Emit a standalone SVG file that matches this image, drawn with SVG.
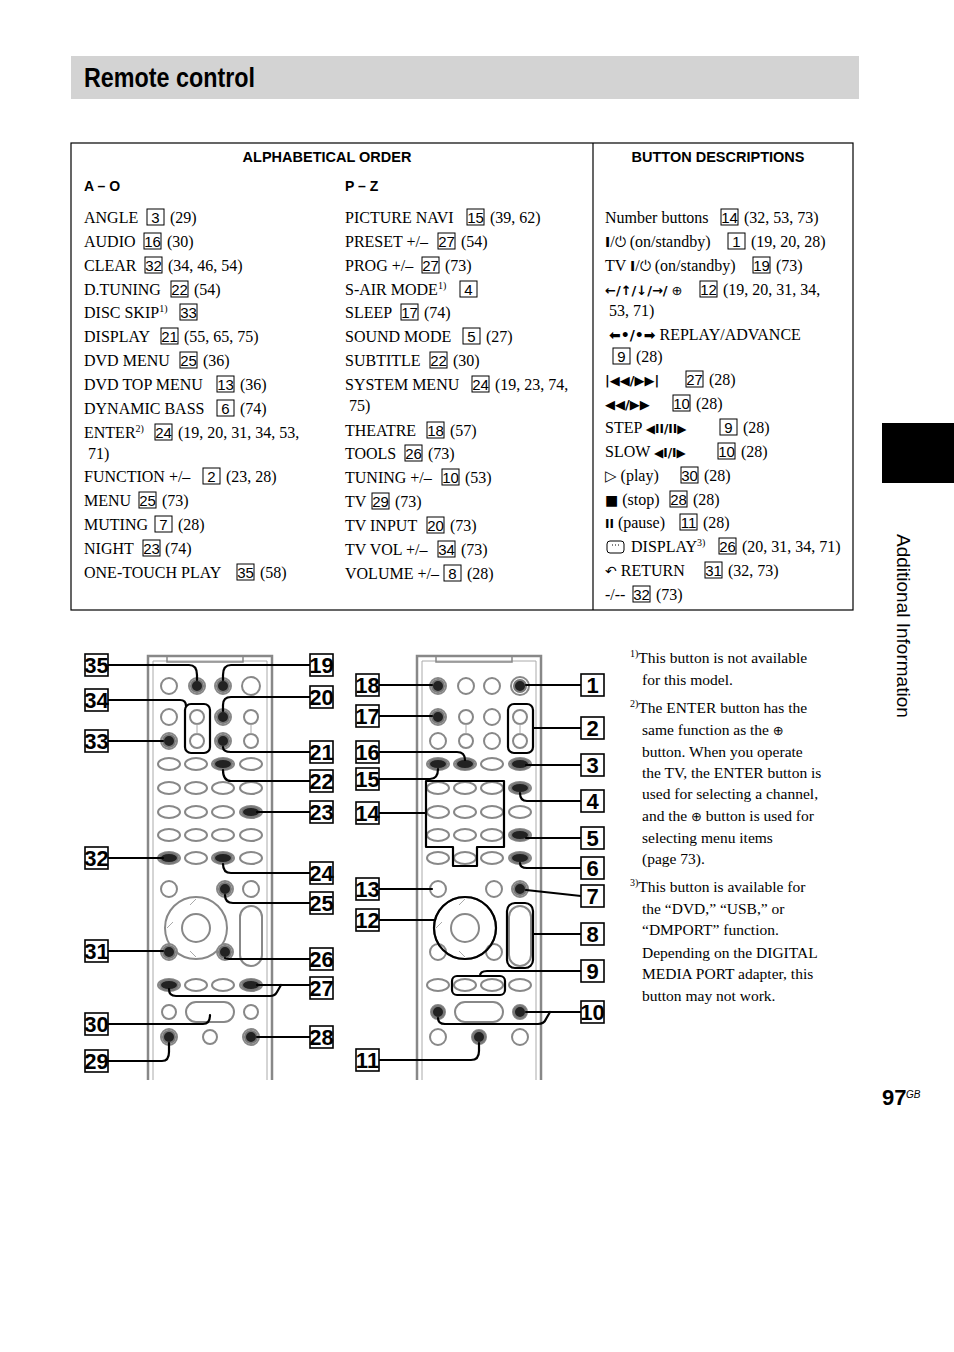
<svg xmlns="http://www.w3.org/2000/svg" xmlns:xlink="http://www.w3.org/1999/xlink" width="954" height="1352" viewBox="0 0 954 1352">
<style>
.t{font-family:"Liberation Serif",serif;font-size:16px;fill:#000}
.h{font-family:"Liberation Sans",sans-serif;font-size:14.5px;font-weight:bold;text-anchor:middle}
.bx{fill:none;stroke:#000;stroke-width:1}
.bn{font-family:"Liberation Sans",sans-serif;font-size:15px;text-anchor:middle}
.lb{fill:#fff;stroke:#000;stroke-width:1.6}
.ln{font-family:"Liberation Sans",sans-serif;font-size:22px;text-anchor:middle;font-weight:bold}
.c{fill:none;stroke:#000;stroke-width:2.2;stroke-linejoin:round;stroke-linecap:round}
.btn{fill:#fff;stroke:#888;stroke-width:2}
.bod{fill:#fff;stroke:#888;stroke-width:2.5}
.hl{fill:#222;stroke:#777;stroke-width:2}
.sup{font-size:10px}
.f{font-family:"Liberation Serif",serif;font-size:15.5px}
</style>
<defs>
<g id="remote">
<path class="bod" d="M148,1080 V656 H272 V1080"/>
<path d="M153,1080 V661 H267 V1080" fill="none" stroke="#aaa" stroke-width="1"/>
<path d="M167,656 V662 H243 V656" fill="none" stroke="#888" stroke-width="1.5"/>
<circle class="btn" cx="169" cy="686" r="8"/><circle class="btn" cx="197" cy="686" r="8"/><circle class="btn" cx="223" cy="686" r="8"/><circle class="btn" cx="251" cy="686" r="9"/>
<circle class="btn" cx="169" cy="717" r="8"/><circle class="btn" cx="197" cy="717" r="7"/><circle class="btn" cx="223" cy="717" r="8"/><circle class="btn" cx="251" cy="717" r="7"/>
<circle class="btn" cx="169" cy="741" r="8"/><circle class="btn" cx="197" cy="741" r="7"/><circle class="btn" cx="223" cy="741" r="8"/><circle class="btn" cx="251" cy="741" r="7"/>
<path d="M197,724 V734 M251,724 V734" stroke="#aaa"/>
<g class="btn">
<ellipse cx="169" cy="764" rx="11" ry="6"/><ellipse cx="196" cy="764" rx="11" ry="6"/><ellipse cx="223" cy="764" rx="11" ry="6"/><ellipse cx="251" cy="764" rx="11" ry="6"/>
<ellipse cx="169" cy="788" rx="11" ry="6"/><ellipse cx="196" cy="788" rx="11" ry="6"/><ellipse cx="223" cy="788" rx="11" ry="6"/><ellipse cx="251" cy="788" rx="11" ry="6"/>
<ellipse cx="169" cy="812" rx="11" ry="6"/><ellipse cx="196" cy="812" rx="11" ry="6"/><ellipse cx="223" cy="812" rx="11" ry="6"/><ellipse cx="251" cy="812" rx="11" ry="6"/>
<ellipse cx="169" cy="835" rx="11" ry="6"/><ellipse cx="196" cy="835" rx="11" ry="6"/><ellipse cx="223" cy="835" rx="11" ry="6"/><ellipse cx="251" cy="835" rx="11" ry="6"/>
<ellipse cx="169" cy="858" rx="11" ry="6"/><ellipse cx="196" cy="858" rx="11" ry="6"/><ellipse cx="223" cy="858" rx="11" ry="6"/><ellipse cx="251" cy="858" rx="11" ry="6"/>
<circle cx="169" cy="889" r="8"/><circle cx="225" cy="889" r="8"/><circle cx="251" cy="889" r="8"/>
<circle cx="196" cy="928" r="31"/><circle cx="196" cy="928" r="14"/>
<circle cx="169" cy="952" r="8"/><circle cx="225" cy="952" r="8"/>
<rect x="240" y="906" width="22" height="60" rx="11"/>
<ellipse cx="169" cy="985" rx="11" ry="6"/><ellipse cx="196" cy="985" rx="11" ry="6"/><ellipse cx="223" cy="985" rx="11" ry="6"/><ellipse cx="251" cy="985" rx="11" ry="6"/>
<circle cx="169" cy="1012" r="7"/><rect x="186" y="1002" width="48" height="20" rx="10"/><circle cx="251" cy="1012" r="7"/>
<circle cx="169" cy="1037" r="8"/><circle cx="210" cy="1037" r="7"/><circle cx="251" cy="1037" r="8"/>
</g>
<path d="M196,899 L190,905 M196,957 L190,951 M167,928 L173,922" stroke="#aaa"/>
</g>
</defs>

<g id="header">
<rect x="71" y="56" width="788" height="43" fill="#d3d3d3"/>
<text x="84" y="87" font-family="Liberation Sans,sans-serif" font-weight="bold" font-size="27" textLength="171" lengthAdjust="spacingAndGlyphs">Remote control</text>
</g>
<g id="sidetab">
<rect x="882" y="423" width="72" height="60" fill="#000"/>
<text transform="translate(897,534) rotate(90)" font-family="Liberation Sans,sans-serif" font-size="19">Additional Information</text>
</g>
<g id="pagenum">
<text x="882" y="1105" font-family="Liberation Sans,sans-serif" font-weight="bold" font-size="22">97</text>
<text x="906" y="1098" font-family="Liberation Sans,sans-serif" font-style="italic" font-size="10">GB</text>
</g>

<g id="table">
<rect x="71" y="143" width="782" height="467" fill="none" stroke="#000" stroke-width="1.2"/>
<line x1="593" y1="143" x2="593" y2="610" stroke="#000" stroke-width="1.2"/>
<text class="h" x="327" y="162">ALPHABETICAL ORDER</text>
<text class="h" x="718" y="162">BUTTON DESCRIPTIONS</text>
<text x="84" y="191" font-family="Liberation Sans,sans-serif" font-weight="bold" font-size="14">A – O</text>
<text x="345" y="191" font-family="Liberation Sans,sans-serif" font-weight="bold" font-size="14">P – Z</text>
<g class="t">
<text x="84" y="223">ANGLE</text><text x="170" y="223">(29)</text>
<text x="84" y="247">AUDIO</text><text x="167" y="247">(30)</text>
<text x="84" y="271">CLEAR</text><text x="168" y="271">(34, 46, 54)</text>
<text x="84" y="295">D.TUNING</text><text x="194" y="295">(54)</text>
<text x="84" y="318">DISC SKIP<tspan class="sup" dy="-6">1)</tspan></text>
<text x="84" y="342">DISPLAY</text><text x="184" y="342">(55, 65, 75)</text>
<text x="84" y="366">DVD MENU</text><text x="203" y="366">(36)</text>
<text x="84" y="390">DVD TOP MENU</text><text x="240" y="390">(36)</text>
<text x="84" y="414">DYNAMIC BASS</text><text x="240" y="414">(74)</text>
<text x="84" y="438">ENTER<tspan class="sup" dy="-6">2)</tspan></text><text x="178" y="438">(19, 20, 31, 34, 53,</text>
<text x="88" y="459">71)</text>
<text x="84" y="482">FUNCTION +/–</text><text x="226" y="482">(23, 28)</text>
<text x="84" y="506">MENU</text><text x="162" y="506">(73)</text>
<text x="84" y="530">MUTING</text><text x="178" y="530">(28)</text>
<text x="84" y="554">NIGHT</text><text x="165" y="554">(74)</text>
<text x="84" y="578">ONE-TOUCH PLAY</text><text x="260" y="578">(58)</text>

<text x="345" y="223">PICTURE NAVI</text><text x="490" y="223">(39, 62)</text>
<text x="345" y="247">PRESET +/–</text><text x="461" y="247">(54)</text>
<text x="345" y="271">PROG +/–</text><text x="445" y="271">(73)</text>
<text x="345" y="295">S-AIR MODE<tspan class="sup" dy="-6">1)</tspan></text>
<text x="345" y="318">SLEEP</text><text x="424" y="318">(74)</text>
<text x="345" y="342">SOUND MODE</text><text x="486" y="342">(27)</text>
<text x="345" y="366">SUBTITLE</text><text x="453" y="366">(30)</text>
<text x="345" y="390">SYSTEM MENU</text><text x="495" y="390">(19, 23, 74,</text>
<text x="349" y="411">75)</text>
<text x="345" y="436">THEATRE</text><text x="450" y="436">(57)</text>
<text x="345" y="459">TOOLS</text><text x="428" y="459">(73)</text>
<text x="345" y="483">TUNING +/–</text><text x="465" y="483">(53)</text>
<text x="345" y="507">TV</text><text x="395" y="507">(73)</text>
<text x="345" y="531">TV INPUT</text><text x="450" y="531">(73)</text>
<text x="345" y="555">TV VOL +/–</text><text x="461" y="555">(73)</text>
<text x="345" y="579">VOLUME +/–</text><text x="467" y="579">(28)</text>

<text x="605" y="223">Number buttons</text><text x="744" y="223">(32, 53, 73)</text>
<text x="605" y="247"><tspan font-family="DejaVu Sans,sans-serif" font-size="14" font-weight="bold">I</tspan>/<tspan font-family="DejaVu Sans,sans-serif" font-size="14">⏻</tspan> (on/standby)</text><text x="751" y="247">(19, 20, 28)</text>
<text x="605" y="271">TV <tspan font-family="DejaVu Sans,sans-serif" font-size="14" font-weight="bold">I</tspan>/<tspan font-family="DejaVu Sans,sans-serif" font-size="14">⏻</tspan> (on/standby)</text><text x="776" y="271">(73)</text>
<text x="605" y="295"><tspan font-family="DejaVu Sans,sans-serif" font-size="13" font-weight="bold">←/↑/↓/→/</tspan> <tspan font-family="DejaVu Sans,sans-serif" font-size="13">⊕</tspan></text><text x="723" y="295">(19, 20, 31, 34,</text>
<text x="609" y="316">53, 71)</text>
<text x="609" y="340"><tspan font-family="DejaVu Sans,sans-serif" font-size="14" font-weight="bold">⬅•/•➡</tspan>  REPLAY/ADVANCE</text>
<text x="636" y="362">(28)</text>
<text x="605" y="385"><tspan font-family="DejaVu Sans,sans-serif" font-size="13" font-weight="bold">|◀◀/▶▶|</tspan></text><text x="709" y="385">(28)</text>
<text x="605" y="409"><tspan font-family="DejaVu Sans,sans-serif" font-size="13" font-weight="bold">◀◀/▶▶</tspan></text><text x="696" y="409">(28)</text>
<text x="605" y="433">STEP <tspan font-family="DejaVu Sans,sans-serif" font-size="12" font-weight="bold">◀II/II▶</tspan></text><text x="743" y="433">(28)</text>
<text x="605" y="457">SLOW <tspan font-family="DejaVu Sans,sans-serif" font-size="12" font-weight="bold">◀I/I▶</tspan></text><text x="741" y="457">(28)</text>
<text x="605" y="481"><tspan font-family="DejaVu Sans,sans-serif" font-size="15">▷</tspan> (play)</text><text x="704" y="481">(28)</text>
<text x="605" y="505"><tspan font-family="DejaVu Sans,sans-serif" font-size="14">■</tspan> (stop)</text><text x="693" y="505">(28)</text>
<text x="605" y="528"><tspan font-family="DejaVu Sans,sans-serif" font-size="12" font-weight="bold">II</tspan> (pause)</text><text x="703" y="528">(28)</text>
<text x="631" y="552">DISPLAY<tspan class="sup" dy="-6">3)</tspan></text><text x="742" y="552">(20, 31, 34, 71)</text>
<text x="605" y="576"><tspan font-family="DejaVu Sans,sans-serif" font-size="14">↶</tspan> RETURN</text><text x="728" y="576">(32, 73)</text>
<text x="605" y="600">-/--</text><text x="656" y="600">(73)</text>
</g>
<path d="M610,541 h11 a3,3 0 0 1 3,3 v6 a3,3 0 0 1 -3,3 h-11 a3,3 0 0 1 -3,-3 v-6 a3,3 0 0 1 3,-3 z M612,545 h1 M615,545 h1 M618,545 h1" fill="none" stroke="#000" stroke-width="1"/>
<g id="inlineboxes">
<rect class="bx" x="147" y="209" width="17" height="16"/><text class="bn" x="155.5" y="223">3</text>
<rect class="bx" x="144" y="233" width="17" height="16"/><text class="bn" x="152.5" y="247">16</text>
<rect class="bx" x="145" y="257" width="17" height="16"/><text class="bn" x="153.5" y="271">32</text>
<rect class="bx" x="171" y="281" width="17" height="16"/><text class="bn" x="179.5" y="295">22</text>
<rect class="bx" x="180" y="304" width="17" height="16"/><text class="bn" x="188.5" y="318">33</text>
<rect class="bx" x="161" y="328" width="17" height="16"/><text class="bn" x="169.5" y="342">21</text>
<rect class="bx" x="180" y="352" width="17" height="16"/><text class="bn" x="188.5" y="366">25</text>
<rect class="bx" x="217" y="376" width="17" height="16"/><text class="bn" x="225.5" y="390">13</text>
<rect class="bx" x="217" y="400" width="17" height="16"/><text class="bn" x="225.5" y="414">6</text>
<rect class="bx" x="155" y="424" width="17" height="16"/><text class="bn" x="163.5" y="438">24</text>
<rect class="bx" x="203" y="468" width="17" height="16"/><text class="bn" x="211.5" y="482">2</text>
<rect class="bx" x="139" y="492" width="17" height="16"/><text class="bn" x="147.5" y="506">25</text>
<rect class="bx" x="155" y="516" width="17" height="16"/><text class="bn" x="163.5" y="530">7</text>
<rect class="bx" x="143" y="540" width="17" height="16"/><text class="bn" x="151.5" y="554">23</text>
<rect class="bx" x="237" y="564" width="17" height="16"/><text class="bn" x="245.5" y="578">35</text>

<rect class="bx" x="467" y="209" width="17" height="16"/><text class="bn" x="475.5" y="223">15</text>
<rect class="bx" x="438" y="233" width="17" height="16"/><text class="bn" x="446.5" y="247">27</text>
<rect class="bx" x="422" y="257" width="17" height="16"/><text class="bn" x="430.5" y="271">27</text>
<rect class="bx" x="460" y="281" width="17" height="16"/><text class="bn" x="468.5" y="295">4</text>
<rect class="bx" x="401" y="304" width="17" height="16"/><text class="bn" x="409.5" y="318">17</text>
<rect class="bx" x="463" y="328" width="17" height="16"/><text class="bn" x="471.5" y="342">5</text>
<rect class="bx" x="430" y="352" width="17" height="16"/><text class="bn" x="438.5" y="366">22</text>
<rect class="bx" x="472" y="376" width="17" height="16"/><text class="bn" x="480.5" y="390">24</text>
<rect class="bx" x="427" y="422" width="17" height="16"/><text class="bn" x="435.5" y="436">18</text>
<rect class="bx" x="405" y="445" width="17" height="16"/><text class="bn" x="413.5" y="459">26</text>
<rect class="bx" x="442" y="469" width="17" height="16"/><text class="bn" x="450.5" y="483">10</text>
<rect class="bx" x="372" y="493" width="17" height="16"/><text class="bn" x="380.5" y="507">29</text>
<rect class="bx" x="427" y="517" width="17" height="16"/><text class="bn" x="435.5" y="531">20</text>
<rect class="bx" x="438" y="541" width="17" height="16"/><text class="bn" x="446.5" y="555">34</text>
<rect class="bx" x="444" y="565" width="17" height="16"/><text class="bn" x="452.5" y="579">8</text>

<rect class="bx" x="721" y="209" width="17" height="16"/><text class="bn" x="729.5" y="223">14</text>
<rect class="bx" x="728" y="233" width="17" height="16"/><text class="bn" x="736.5" y="247">1</text>
<rect class="bx" x="753" y="257" width="17" height="16"/><text class="bn" x="761.5" y="271">19</text>
<rect class="bx" x="700" y="281" width="17" height="16"/><text class="bn" x="708.5" y="295">12</text>
<rect class="bx" x="613" y="348" width="17" height="16"/><text class="bn" x="621.5" y="362">9</text>
<rect class="bx" x="686" y="371" width="17" height="16"/><text class="bn" x="694.5" y="385">27</text>
<rect class="bx" x="673" y="395" width="17" height="16"/><text class="bn" x="681.5" y="409">10</text>
<rect class="bx" x="720" y="419" width="17" height="16"/><text class="bn" x="728.5" y="433">9</text>
<rect class="bx" x="718" y="443" width="17" height="16"/><text class="bn" x="726.5" y="457">10</text>
<rect class="bx" x="681" y="467" width="17" height="16"/><text class="bn" x="689.5" y="481">30</text>
<rect class="bx" x="670" y="491" width="17" height="16"/><text class="bn" x="678.5" y="505">28</text>
<rect class="bx" x="680" y="514" width="17" height="16"/><text class="bn" x="688.5" y="528">11</text>
<rect class="bx" x="719" y="538" width="17" height="16"/><text class="bn" x="727.5" y="552">26</text>
<rect class="bx" x="705" y="562" width="17" height="16"/><text class="bn" x="713.5" y="576">31</text>
<rect class="bx" x="633" y="586" width="17" height="16"/><text class="bn" x="641.5" y="600">32</text>
</g>
</g>

<g id="remote-left"><use xlink:href="#remote"/></g>
<g id="remote-right"><use xlink:href="#remote" transform="translate(269,0)"/></g>

<g id="highlights" class="hl">
<circle cx="197" cy="686" r="6"/><circle cx="223" cy="686" r="6"/><circle cx="169" cy="741" r="6"/><circle cx="223" cy="717" r="6"/><circle cx="223" cy="741" r="6"/>
<ellipse cx="223" cy="764" rx="9" ry="5"/><ellipse cx="251" cy="812" rx="9" ry="5"/><ellipse cx="169" cy="858" rx="9" ry="5"/><ellipse cx="223" cy="858" rx="9" ry="5"/>
<circle cx="225" cy="889" r="6"/><circle cx="169" cy="952" r="6"/><circle cx="225" cy="952" r="6"/>
<ellipse cx="169" cy="985" rx="9" ry="5"/><ellipse cx="251" cy="985" rx="9" ry="5"/><circle cx="169" cy="1037" r="6"/><circle cx="251" cy="1037" r="6"/>
<circle cx="438" cy="686" r="6"/><circle cx="520" cy="686" r="6"/><circle cx="438" cy="717" r="6"/>
<ellipse cx="438" cy="764" rx="9" ry="5"/><ellipse cx="465" cy="764" rx="9" ry="5"/><ellipse cx="520" cy="764" rx="9" ry="5"/><ellipse cx="520" cy="788" rx="9" ry="5"/><ellipse cx="520" cy="835" rx="9" ry="5"/><ellipse cx="520" cy="858" rx="9" ry="5"/>
<circle cx="520" cy="889" r="6"/><circle cx="438" cy="1012" r="6"/><circle cx="520" cy="1012" r="6"/><circle cx="479" cy="1037" r="6"/>
</g>

<g id="connectors" class="c">
<path d="M108,665 H189 Q197,665 197,675 V680"/>
<path d="M108,700 H180 Q186,700 186,706"/>
<rect x="185" y="704" width="25" height="49" rx="6"/>
<path d="M108,741 H163"/>
<path d="M108,858 H163"/>
<path d="M108,951 H163"/>
<path d="M108,1024 H203 Q210,1024 210,1015"/>
<path d="M108,1061 H162 Q169,1061 169,1052 V1043"/>
<path d="M310,665 H231 Q223,665 223,675 V680"/>
<path d="M310,697 H231 Q223,697 223,705 V711"/>
<path d="M310,752 H231 Q223,752 223,747"/>
<path d="M310,781 H231 Q223,781 223,770"/>
<path d="M310,812 H257"/>
<path d="M310,873 H231 Q223,873 223,864"/>
<path d="M310,903 H233 Q225,903 225,895"/>
<path d="M310,959 H233 Q225,959 225,958"/>
<path d="M310,985 H257"/>
<path d="M281,985 L277,992 Q275,996 270,996 H176 Q169,996 169,989"/>
<path d="M310,1037 H257"/>

<path d="M379,685 H432"/>
<path d="M379,716 H432"/>
<path d="M379,752 H457 Q465,752 465,760"/>
<path d="M379,779 H430 Q438,779 438,769"/>
<path d="M379,813 H426"/>
<path d="M426,781 H504 V847 H477 V866 H453 V847 H426 Z"/>
<path d="M379,889 H432"/>
<path d="M379,920 H434"/>
<circle cx="465" cy="928" r="31"/>
<path d="M379,1060 H471 Q479,1060 479,1051 V1043"/>
<path d="M581,685 H526"/>
<rect x="508" y="704" width="25" height="49" rx="6"/>
<path d="M581,728 H533"/>
<path d="M581,765 H526"/>
<path d="M581,801 H527 Q520,801 520,793"/>
<path d="M581,838 H526"/>
<path d="M581,868 H527 Q520,868 520,863"/>
<path d="M581,896 L526,890"/>
<rect x="507" y="903" width="26" height="65" rx="8"/>
<path d="M581,934 H533"/>
<path d="M581,971 H487 Q480,971 480,976"/>
<rect x="452" y="976" width="53" height="19" rx="5"/>
<path d="M581,1012 H526"/>
<path d="M550,1012 L546,1019 Q544,1024 538,1024 H445 Q438,1024 438,1018"/>
</g>

<g id="labels">
<g class="lb">
<rect x="85" y="654" width="23" height="22"/><rect x="85" y="689" width="23" height="22"/><rect x="85" y="730" width="23" height="22"/><rect x="85" y="847" width="23" height="22"/><rect x="85" y="940" width="23" height="22"/><rect x="85" y="1013" width="23" height="22"/><rect x="85" y="1050" width="23" height="22"/>
<rect x="310" y="654" width="23" height="22"/><rect x="310" y="686" width="23" height="22"/><rect x="310" y="741" width="23" height="22"/><rect x="310" y="770" width="23" height="22"/><rect x="310" y="801" width="23" height="22"/><rect x="310" y="862" width="23" height="22"/><rect x="310" y="892" width="23" height="22"/><rect x="310" y="948" width="23" height="22"/><rect x="310" y="977" width="23" height="22"/><rect x="310" y="1026" width="23" height="22"/>
<rect x="356" y="674" width="23" height="22"/><rect x="356" y="705" width="23" height="22"/><rect x="356" y="741" width="23" height="22"/><rect x="356" y="768" width="23" height="22"/><rect x="356" y="802" width="23" height="22"/><rect x="356" y="878" width="23" height="22"/><rect x="356" y="909" width="23" height="22"/><rect x="356" y="1049" width="23" height="22"/>
<rect x="581" y="674" width="23" height="22"/><rect x="581" y="717" width="23" height="22"/><rect x="581" y="754" width="23" height="22"/><rect x="581" y="790" width="23" height="22"/><rect x="581" y="827" width="23" height="22"/><rect x="581" y="857" width="23" height="22"/><rect x="581" y="885" width="23" height="22"/><rect x="581" y="923" width="23" height="22"/><rect x="581" y="960" width="23" height="22"/><rect x="581" y="1001" width="23" height="22"/>
</g>
<g class="ln">
<text x="96.5" y="673">35</text><text x="96.5" y="708">34</text><text x="96.5" y="749">33</text><text x="96.5" y="866">32</text><text x="96.5" y="959">31</text><text x="96.5" y="1032">30</text><text x="96.5" y="1069">29</text>
<text x="321.5" y="673">19</text><text x="321.5" y="705">20</text><text x="321.5" y="760">21</text><text x="321.5" y="789">22</text><text x="321.5" y="820">23</text><text x="321.5" y="881">24</text><text x="321.5" y="911">25</text><text x="321.5" y="967">26</text><text x="321.5" y="996">27</text><text x="321.5" y="1045">28</text>
<text x="367.5" y="693">18</text><text x="367.5" y="724">17</text><text x="367.5" y="760">16</text><text x="367.5" y="787">15</text><text x="367.5" y="821">14</text><text x="367.5" y="897">13</text><text x="367.5" y="928">12</text><text x="367.5" y="1068">11</text>
<text x="592.5" y="693">1</text><text x="592.5" y="736">2</text><text x="592.5" y="773">3</text><text x="592.5" y="809">4</text><text x="592.5" y="846">5</text><text x="592.5" y="876">6</text><text x="592.5" y="904">7</text><text x="592.5" y="942">8</text><text x="592.5" y="979">9</text><text x="592.5" y="1020">10</text>
</g>
</g>

<g id="footnotes" class="f">
<text x="630" y="663"><tspan class="sup" dy="-6">1)</tspan><tspan dy="6">This button is not available</tspan></text>
<text x="642" y="685">for this model.</text>
<text x="630" y="713"><tspan class="sup" dy="-6">2)</tspan><tspan dy="6">The ENTER button has the</tspan></text>
<text x="642" y="735">same function as the <tspan font-family="DejaVu Sans,sans-serif" font-size="13">⊕</tspan></text>
<text x="642" y="757">button. When you operate</text>
<text x="642" y="778">the TV, the ENTER button is</text>
<text x="642" y="799">used for selecting a channel,</text>
<text x="642" y="821">and the <tspan font-family="DejaVu Sans,sans-serif" font-size="13">⊕</tspan> button is used for</text>
<text x="642" y="843">selecting menu items</text>
<text x="642" y="864">(page 73).</text>
<text x="630" y="892"><tspan class="sup" dy="-6">3)</tspan><tspan dy="6">This button is available for</tspan></text>
<text x="642" y="914">the “DVD,” “USB,” or</text>
<text x="642" y="935">“DMPORT” function.</text>
<text x="642" y="958">Depending on the DIGITAL</text>
<text x="642" y="979">MEDIA PORT adapter, this</text>
<text x="642" y="1001">button may not work.</text>
</g>
</svg>
